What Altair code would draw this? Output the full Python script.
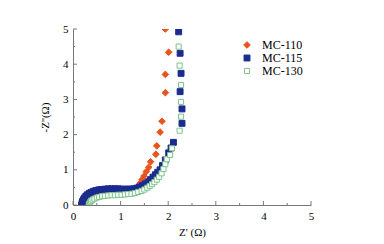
import altair as alt
import pandas as pd

series = ["MC-110", "MC-115", "MC-130"]
colors_fill = ["#E9531E", "#1B2C8E", "#FFFFFF"]
colors_stroke = ["#E9531E", "#1B2C8E", "#7CC38B"]
shapes = ["diamond", "square", "square"]

mc110_x = [0.21, 0.22, 0.23, 0.25, 0.28, 0.31, 0.35, 0.40, 0.45, 0.51, 0.57, 0.64, 0.71, 0.78, 0.85,
           0.92, 0.99, 1.05, 1.11, 1.17, 1.22, 1.27, 1.32, 1.37, 1.41, 1.45, 1.49, 1.54, 1.59, 1.63,
           1.74, 1.76, 1.83, 1.87, 1.94, 1.94, 2.01, 1.94]
mc110_y = [0.00, 0.05, 0.09, 0.13, 0.17, 0.20, 0.23, 0.25, 0.27, 0.29, 0.30, 0.31, 0.32, 0.33, 0.33,
           0.34, 0.34, 0.35, 0.36, 0.37, 0.39, 0.42, 0.47, 0.54, 0.62, 0.72, 0.82, 0.95, 1.07, 1.23,
           1.44, 1.68, 2.07, 2.38, 3.19, 3.71, 4.34, 5.00]

mc115_x = [0.18, 0.19, 0.20, 0.22, 0.24, 0.27, 0.30, 0.34, 0.38, 0.43, 0.48, 0.54, 0.60, 0.67, 0.74,
           0.81, 0.88, 0.95, 1.02, 1.09, 1.16, 1.22, 1.28, 1.34, 1.40, 1.46, 1.52, 1.58, 1.63, 1.68,
           1.73, 1.78, 1.83, 1.88, 1.94, 2.01, 2.06, 2.11, 2.29, 2.29, 2.25, 2.27, 2.25, 2.22]
mc115_y = [0.00, 0.05, 0.10, 0.15, 0.20, 0.25, 0.29, 0.33, 0.36, 0.39, 0.41, 0.43, 0.44, 0.45, 0.46,
           0.46, 0.46, 0.46, 0.45, 0.45, 0.45, 0.45, 0.46, 0.48, 0.51, 0.55, 0.60, 0.66, 0.72, 0.79,
           0.86, 0.93, 1.00, 1.12, 1.28, 1.48, 1.62, 1.78, 2.32, 2.73, 3.22, 3.74, 4.31, 4.92]

mc130_x = [0.33, 0.34, 0.36, 0.38, 0.41, 0.45, 0.50, 0.55, 0.61, 0.67, 0.74, 0.81, 0.88, 0.95, 1.02,
           1.09, 1.16, 1.23, 1.30, 1.37, 1.44, 1.50, 1.56, 1.61, 1.66, 1.71, 1.76, 1.81, 1.86, 1.90,
           1.94, 1.97, 2.04, 2.08, 2.24, 2.27, 2.27, 2.27, 2.24, 2.22]
mc130_y = [0.00, 0.04, 0.08, 0.12, 0.15, 0.18, 0.21, 0.23, 0.25, 0.26, 0.27, 0.28, 0.28, 0.29, 0.29,
           0.30, 0.31, 0.32, 0.34, 0.37, 0.40, 0.44, 0.49, 0.54, 0.59, 0.65, 0.72, 0.80, 0.90, 1.02,
           1.16, 1.30, 1.42, 1.61, 2.11, 2.51, 2.93, 3.41, 3.96, 4.50]

major_ticks = [0, 1, 2, 3, 4, 5]
minor_ticks = [0.5, 1.5, 2.5, 3.5, 4.5]

rows = []
for name, xs, ys in [("MC-110", mc110_x, mc110_y), ("MC-115", mc115_x, mc115_y), ("MC-130", mc130_x, mc130_y)]:
    for a, b in zip(xs, ys):
        rows.append({"series": name, "zr": a, "zi": b})
df = pd.DataFrame(rows)

FONT = "Liberation Serif"
W, H = 238, 176

xscale = alt.Scale(domain=[0, 5], nice=False, zero=False)
yscale = alt.Scale(domain=[0, 5], nice=False, zero=False)

xaxis = alt.Axis(
    values=major_ticks, tickSize=0, grid=False, domainColor="#777777",
    labelFont=FONT, labelFontSize=11, labelColor="#000000", labelPadding=5,
    labelOverlap=False, labelFlush=False,
    title="Z' (Ω)", titleFont=FONT, titleFontSize=11, titleFontWeight="normal",
    titleColor="#000000", titlePadding=5)
yaxis = alt.Axis(
    values=major_ticks, tickSize=0, grid=False, domainColor="#777777",
    labelFont=FONT, labelFontSize=11, labelColor="#000000", labelPadding=5,
    labelOverlap=False, labelFlush=False,
    title="-Z''(Ω)", titleFont=FONT, titleFontSize=11, titleFontWeight="normal",
    titleColor="#000000", titlePadding=12)

points = alt.Chart(df).mark_point(opacity=1, strokeWidth=1, clip=True).encode(
    x=alt.X("zr:Q", scale=xscale, axis=xaxis),
    y=alt.Y("zi:Q", scale=yscale, axis=yaxis),
    shape=alt.Shape("series:N", scale=alt.Scale(domain=series, range=shapes), title=None),
    fill=alt.Fill("series:N", scale=alt.Scale(domain=series, range=colors_fill), title=None),
    stroke=alt.Stroke("series:N", scale=alt.Scale(domain=series, range=colors_stroke), title=None),
    size=alt.Size("series:N", scale=alt.Scale(domain=series, range=[44, 26, 26]), title=None),
)

ymaj = alt.Chart(pd.DataFrame({"t": major_ticks})).mark_rule(color="#777777").encode(
    y=alt.Y("t:Q", scale=yscale, axis=yaxis), x=alt.value(0), x2=alt.value(4))
ymin = alt.Chart(pd.DataFrame({"t": minor_ticks})).mark_rule(color="#777777").encode(
    y=alt.Y("t:Q", scale=yscale, axis=yaxis), x=alt.value(0), x2=alt.value(2))
xmaj = alt.Chart(pd.DataFrame({"t": major_ticks})).mark_rule(color="#777777").encode(
    x=alt.X("t:Q", scale=xscale, axis=xaxis), y=alt.value(H), y2=alt.value(H - 4))
xmin = alt.Chart(pd.DataFrame({"t": minor_ticks})).mark_rule(color="#777777").encode(
    x=alt.X("t:Q", scale=xscale, axis=xaxis), y=alt.value(H), y2=alt.value(H - 2))

chart = alt.layer(points, ymaj, ymin, xmaj, xmin).properties(
    width=W, height=H,
    padding={"left": 65, "top": 21, "right": 65, "bottom": 38},
    autosize=alt.AutoSizeParams(type="none"),
).configure_view(stroke=None).configure_axis(
    labelOverlap=False,
).configure_legend(
    orient="none", legendX=168, legendY=10,
    labelFont=FONT, labelFontSize=12, labelColor="#000000",
    rowPadding=1, symbolStrokeWidth=1, labelOffset=9,
)

chart.save("out.html", embed_options={"renderer": "svg", "actions": False})
